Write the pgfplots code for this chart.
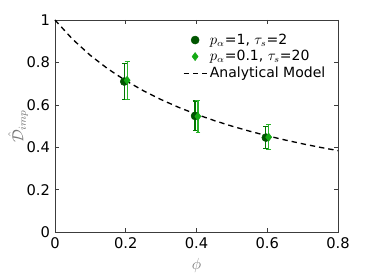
\documentclass[border=0pt]{standalone}
\usepackage{pgfplots}
\pgfplotsset{compat=1.18}
\usepackage{fontspec}
\setmainfont{DejaVu Sans}
\definecolor{dkgreen}{RGB}{0,85,0}
\definecolor{dkbar}{RGB}{0,120,0}
\definecolor{ltgreen}{RGB}{20,170,20}
\definecolor{ltbar}{RGB}{40,180,40}
\definecolor{axgray}{RGB}{60,60,60}
\definecolor{lblgray}{RGB}{120,120,120}
\begin{document}
\fontsize{10.5}{12}\selectfont
\begin{tikzpicture}
\begin{axis}[
  scale only axis,
  width=212pt, height=159pt,
  xmin=0, xmax=0.8, ymin=0, ymax=1,
  xtick={0,0.2,0.4,0.6,0.8},
  ytick={0,0.2,0.4,0.6,0.8,1},
  xticklabels={0,0.2,0.4,0.6,0.8},
  yticklabels={0,0.2,0.4,0.6,0.8,1},
  tick align=inside,
  tick style={axgray, line width=0.5pt},
  major tick length=3pt,
  axis line style={axgray, line width=0.6pt},
  clip=false,
  /pgf/number format/assume math mode=true,
  ticklabel style={font=\fontsize{11}{12}\selectfont, text=black},
  xlabel={$\phi$},
  ylabel={$\hat{\mathcal{D}}_{imp}$},
  every axis x label/.style={at={(rel axis cs:0.5,-0.155)}, anchor=center},
  every axis y label/.style={at={(rel axis cs:-0.13,0.5)}, rotate=90, anchor=center},
  label style={text=lblgray, font=\fontsize{12}{14}\selectfont},
  legend style={draw=none, fill=none, at={(rel axis cs:0.97,0.955)}, anchor=north east,
    font=\fontsize{10.5}{12}\selectfont, row sep=-1pt, inner sep=1pt},
  legend cell align=left,
]
\addplot[dkgreen, only marks, mark=*, mark size=3pt,
  error bars/y dir=both, error bars/y explicit,
  error bars/error bar style={draw=dkbar, line width=0.9pt},
  error bars/error mark options={rotate=90, mark size=1.8pt, draw=dkbar, line width=0.9pt}]
  coordinates {
  (0.196,0.710) +- (0,0.085)
  (0.396,0.548) +- (0,0.070)
  (0.596,0.446) +- (0,0.053)
  };
\addlegendentry{$p_\alpha$=1, $\tau_s$=2}
\addplot[ltgreen, only marks, mark=diamond*, mark size=3pt,
  error bars/y dir=both, error bars/y explicit,
  error bars/error bar style={draw=ltbar, line width=0.9pt},
  error bars/error mark options={rotate=90, mark size=1.8pt, draw=ltbar, line width=0.9pt}]
  coordinates {
  (0.204,0.716) +- (0,0.090)
  (0.404,0.546) +- (0,0.075)
  (0.604,0.448) +- (0,0.058)
  };
\addlegendentry{$p_\alpha$=0.1, $\tau_s$=20}
\addplot[black, line width=1pt, dash pattern=on 4pt off 3pt, mark=none]
  coordinates {
  (0,1) (0.05,0.9091) (0.1,0.8333) (0.15,0.7692) (0.2,0.7143) (0.25,0.6667)
  (0.3,0.625) (0.35,0.5882) (0.4,0.5556) (0.45,0.5263) (0.5,0.5) (0.55,0.4762)
  (0.6,0.4545) (0.65,0.4348) (0.7,0.4167) (0.75,0.4) (0.8,0.3846)
  };
\addlegendentry{Analytical Model}
\draw[draw=none] (rel axis cs:-0.194,-0.222) rectangle (rel axis cs:1.127,1.094);
\end{axis}
\end{tikzpicture}
\end{document}
